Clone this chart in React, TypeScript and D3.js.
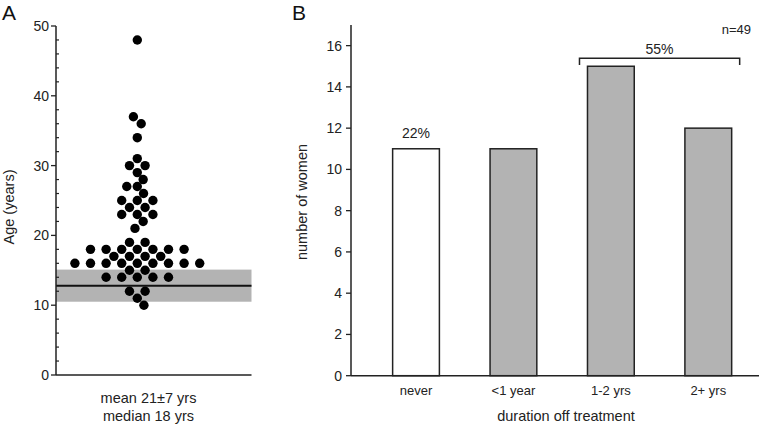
import React from "react";
import * as d3 from "d3";

// Panel A: ages (years) and swarm slot offsets
const ages = [48, 37, 36, 34, 31, 30, 30, 29, 28, 27, 27, 26, 25, 25, 25, 24, 24, 23, 23, 23, 22, 21, 19, 19,
  18, 18, 18, 18, 18, 18, 18, 17, 17, 17, 17, 16, 16, 16, 16, 16, 16, 16, 16, 16, 15, 15, 14, 14, 14, 14, 14, 12, 12, 11, 10];
const slots = [0, -0.5, 0.5, 0, 0, -1, 1, 0, 0.75, -1.35, 0, 0.8, -2, 0, 2, -1, 1, -2, 0, 2, 0.75, -0.3, -1, 1,
  -6, -4, -2, 0, 2, 4, 6, -3, -1, 1, 3, -8, -6, -4, -2, 0, 2, 4, 6, 8, -1, 1, -4, -2, 0, 2, 4, -1, 1, 0, 0.85];
const refBand = [10.5, 15.1];
const refLine = 12.8;
const ageTicks = [0, 10, 20, 30, 40, 50];
const ageMinor = d3.range(0, 51, 2).filter((v) => v % 10 !== 0);

// Panel B
const durations = ["never", "<1 year", "1-2 yrs", "2+ yrs"];
const counts = [11, 11, 15, 12];
const countTicks = [0, 2, 4, 6, 8, 10, 12, 14, 16];

const FONT = "Arial, 'Liberation Sans', Helvetica, sans-serif";

export default function App() {
  // Panel A scales
  const yA = d3.scaleLinear().domain([0, 50]).range([375, 26]);
  const xA = d3.scaleLinear().domain([-1, 1]).range([137.3 - 7.8, 137.3 + 7.8]);
  const axA = 56;
  const axAEnd = 251.5;

  // Panel B scales
  const yB = d3.scaleLinear().domain([0, 17]).range([375.7, 25]);
  const xB = d3.scaleBand<string>().domain(durations).range([367.3, 757]).paddingInner(0.52).paddingOuter(0.26);
  const axB = 351;
  const bw = xB.bandwidth();

  const bx0 = (xB("1-2 yrs") as number) - 8;
  const bx1 = (xB("2+ yrs") as number) + bw + 8;

  return (
    <svg width={762} height={428} style={{ position: "absolute", left: 0, top: 0, background: "#fff" }} fontFamily={FONT}>
      <rect x={0} y={0} width={762} height={428} fill="#fff" />
      {/* Panel A */}
      <text x={2} y={20} fontSize={21} fill="#111">A</text>
      <rect x={axA} y={yA(refBand[1])} width={axAEnd - axA} height={yA(refBand[0]) - yA(refBand[1])} fill="#b3b3b3" />
      <line x1={axA} x2={axAEnd} y1={yA(refLine)} y2={yA(refLine)} stroke="#111" strokeWidth={2} />
      <line x1={axA} x2={axA} y1={yA(50)} y2={yA(0)} stroke="#222" strokeWidth={1.5} />
      <line x1={axA} x2={axAEnd} y1={yA(0)} y2={yA(0)} stroke="#222" strokeWidth={1.5} />
      {ageTicks.map((t) => (
        <g key={t}>
          <line x1={axA - 5} x2={axA} y1={yA(t)} y2={yA(t)} stroke="#222" strokeWidth={1.3} />
          <text x={axA - 7} y={yA(t)} dy="0.36em" textAnchor="end" fontSize={14} fill="#222">{t}</text>
        </g>
      ))}
      {ageMinor.map((t) => (
        <line key={t} x1={axA} x2={axA + 3} y1={yA(t)} y2={yA(t)} stroke="#222" strokeWidth={1.2} />
      ))}
      {ages.map((a, i) => (
        <circle key={i} cx={xA(slots[i])} cy={yA(a)} r={4.7} fill="#000" />
      ))}
      <text transform={`translate(14,207) rotate(-90)`} textAnchor="middle" fontSize={14.5} fill="#222">Age (years)</text>
      <text x={148.5} y={403} textAnchor="middle" fontSize={14.5} fill="#222">mean 21±7 yrs</text>
      <text x={148.5} y={421} textAnchor="middle" fontSize={14.5} fill="#222">median 18 yrs</text>

      {/* Panel B */}
      <text x={292} y={20} fontSize={21} fill="#111">B</text>
      {durations.map((d, i) => (
        <rect key={d} x={xB(d)} y={yB(counts[i])} width={bw} height={yB(0) - yB(counts[i])}
          fill={i === 0 ? "#fff" : "#b3b3b3"} stroke="#222" strokeWidth={1.5} />
      ))}
      <line x1={axB} x2={axB} y1={yB(17)} y2={yB(0)} stroke="#222" strokeWidth={1.5} />
      <line x1={axB} x2={759} y1={yB(0)} y2={yB(0)} stroke="#222" strokeWidth={1.5} />
      {countTicks.map((t) => (
        <g key={t}>
          <line x1={axB - 5} x2={axB} y1={yB(t)} y2={yB(t)} stroke="#222" strokeWidth={1.3} />
          <text x={axB - 9} y={yB(t)} dy="0.36em" textAnchor="end" fontSize={14} fill="#222">{t}</text>
        </g>
      ))}
      {durations.map((d) => (
        <text key={d} x={(xB(d) as number) + bw / 2} y={395} textAnchor="middle" fontSize={13} fill="#222">{d}</text>
      ))}
      <text transform={`translate(307,202) rotate(-90)`} textAnchor="middle" fontSize={14.5} fill="#222">number of women</text>
      <text x={566} y={421} textAnchor="middle" fontSize={14.5} fill="#222">duration off treatment</text>
      <text x={(xB("never") as number) + bw / 2} y={137.5} textAnchor="middle" fontSize={14} fill="#222">22%</text>
      <path d={`M${bx0},65 V58.3 H${bx1} V65`} fill="none" stroke="#222" strokeWidth={1.5} />
      <text x={(bx0 + bx1) / 2} y={53.5} textAnchor="middle" fontSize={14} fill="#222">55%</text>
      <text x={751} y={34} textAnchor="end" fontSize={13} fill="#222">n=49</text>
    </svg>
  );
}
